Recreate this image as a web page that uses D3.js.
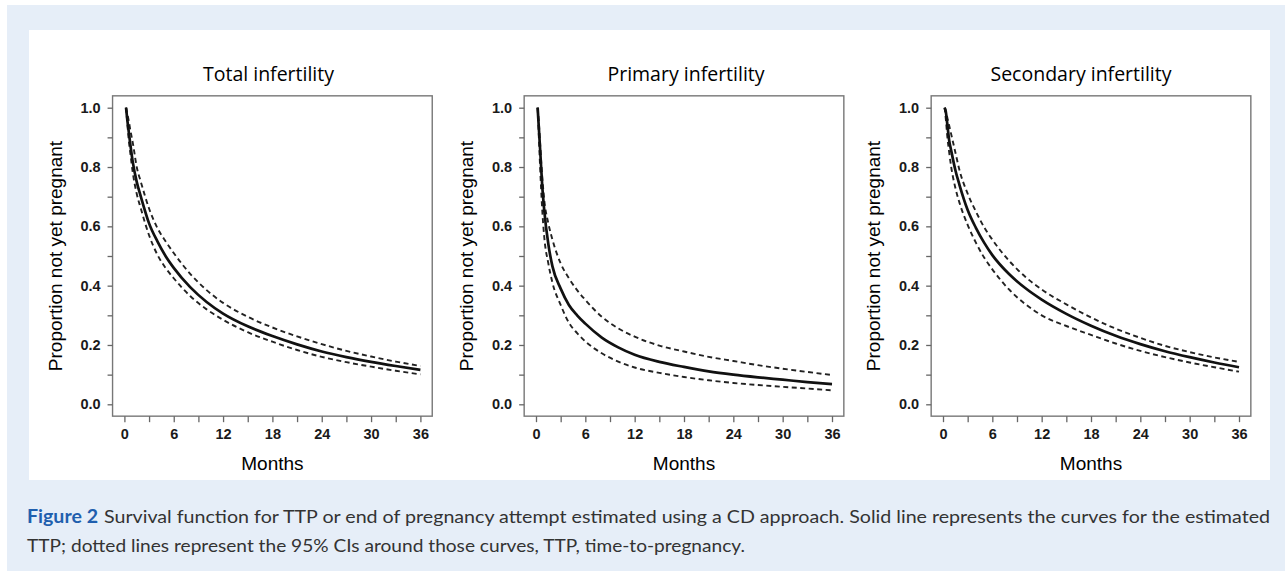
<!DOCTYPE html>
<html><head><meta charset="utf-8">
<script src="https://cdn.jsdelivr.net/npm/d3@7"></script>
<style>
html,body{margin:0;padding:0;background:#fff;}
svg{display:block;}
</style></head>
<body>
<svg id="chart" width="1285" height="571"></svg>
<script>
// ---- data ----
const months = [0.2, 0.35, 0.5, 0.75, 1, 1.5, 2, 3, 4, 5, 6, 8, 10, 12, 15, 18, 21, 24, 27, 30, 33, 36];

const totalEst = [1.0, 0.96, 0.925, 0.87, 0.82, 0.75, 0.70, 0.61, 0.55, 0.50, 0.46, 0.395, 0.345, 0.306, 0.263, 0.23, 0.202, 0.178, 0.159, 0.143, 0.129, 0.116];
const totalHi  = [1.0, 0.98, 0.96, 0.92, 0.885, 0.80, 0.75, 0.66, 0.595, 0.55, 0.51, 0.44, 0.385, 0.342, 0.295, 0.259, 0.229, 0.203, 0.18, 0.161, 0.144, 0.129];
const totalLo  = [1.0, 0.95, 0.90, 0.84, 0.785, 0.71, 0.66, 0.57, 0.505, 0.46, 0.425, 0.365, 0.32, 0.285, 0.243, 0.211, 0.183, 0.16, 0.142, 0.127, 0.113, 0.101];

const primaryEst = [1.0, 0.93, 0.86, 0.74, 0.655, 0.54, 0.465, 0.39, 0.335, 0.30, 0.272, 0.225, 0.192, 0.167, 0.143, 0.126, 0.111, 0.10, 0.091, 0.083, 0.075, 0.068];
const primaryHi  = [1.0, 0.95, 0.88, 0.77, 0.69, 0.61, 0.555, 0.475, 0.425, 0.385, 0.352, 0.295, 0.256, 0.228, 0.198, 0.178, 0.16, 0.146, 0.132, 0.12, 0.109, 0.099];
const primaryLo  = [1.0, 0.90, 0.80, 0.66, 0.565, 0.475, 0.41, 0.335, 0.275, 0.24, 0.212, 0.172, 0.144, 0.124, 0.106, 0.092, 0.081, 0.072, 0.065, 0.059, 0.053, 0.047];

const secondaryEst = [1.0, 0.985, 0.95, 0.89, 0.855, 0.79, 0.74, 0.655, 0.595, 0.545, 0.503, 0.44, 0.392, 0.353, 0.305, 0.265, 0.231, 0.203, 0.179, 0.159, 0.141, 0.125];
const secondaryHi  = [1.0, 0.99, 0.97, 0.94, 0.91, 0.85, 0.79, 0.71, 0.65, 0.597, 0.555, 0.485, 0.43, 0.387, 0.337, 0.293, 0.255, 0.224, 0.197, 0.176, 0.158, 0.143];
const secondaryLo  = [1.0, 0.96, 0.91, 0.85, 0.80, 0.73, 0.68, 0.605, 0.545, 0.495, 0.455, 0.388, 0.338, 0.30, 0.264, 0.234, 0.205, 0.18, 0.159, 0.141, 0.125, 0.11];

const panelTitles = ["Total infertility", "Primary infertility", "Secondary infertility"];
const xTickValues = [0, 3, 6, 9, 12, 15, 18, 21, 24, 27, 30, 33, 36];
const xTickLabels = ["0", "", "6", "", "12", "", "18", "", "24", "", "30", "", "36"];
const yTickValues = [0, 0.1, 0.2, 0.3, 0.4, 0.5, 0.6, 0.7, 0.8, 0.9, 1.0];
const yTickLabels = ["0.0", "", "0.2", "", "0.4", "", "0.6", "", "0.8", "", "1.0"];
const xLabel = "Months";
const yLabel = "Proportion not yet pregnant";
const captionBold = "Figure 2";
const captionLine1 = "Survival function for TTP or end of pregnancy attempt estimated using a CD approach. Solid line represents the curves for the estimated";
const captionLine2 = "TTP; dotted lines represent the 95% CIs around those curves, TTP, time-to-pregnancy.";

const panels = [
  {title: panelTitles[0], est: totalEst, lo: totalLo, hi: totalHi},
  {title: panelTitles[1], est: primaryEst, lo: primaryLo, hi: primaryHi},
  {title: panelTitles[2], est: secondaryEst, lo: secondaryLo, hi: secondaryHi}
];

// ---- layout ----
const svg = d3.select("#chart");
svg.append("rect").attr("x", 7).attr("y", 5).attr("width", 1278).attr("height", 566).attr("fill", "#e6eef8");
svg.append("rect").attr("x", 29).attr("y", 30).attr("width", 1241).attr("height", 450).attr("fill", "#ffffff");

const panelX0 = [124.4, 536, 943];     // pixel of month 0
const panelTitleX = [268.5, 686, 1081];
const plotW = 296, yTop = 107.7, yBot = 404.3;
const tickFont = "Liberation Sans, Arial, Helvetica, sans-serif";

panels.forEach((p, i) => {
  const x = d3.scaleLinear().domain([0, 36]).range([panelX0[i], panelX0[i] + plotW]);
  const y = d3.scaleLinear().domain([0, 1]).range([yBot, yTop]);
  const g = svg.append("g");
  const bx0 = x(-1.44), bx1 = x(37.44), by0 = y(1.04), by1 = y(-0.04);

  // box
  g.append("rect").attr("x", bx0).attr("y", by0).attr("width", bx1 - bx0).attr("height", by1 - by0)
    .attr("fill", "none").attr("stroke", "#777").attr("stroke-width", 1.4);

  // axes
  const xAxis = d3.axisBottom(x).tickValues(xTickValues).tickSize(6).tickPadding(5)
    .tickFormat((d, k) => xTickLabels[k]);
  const ga = g.append("g").attr("transform", `translate(0,${by1})`).call(xAxis)
    .attr("font-size", null).attr("font-family", null);
  ga.select(".domain").remove();
  ga.selectAll(".tick line").attr("stroke", "#666").attr("stroke-width", 1.3);
  ga.selectAll(".tick text").style("font-family", tickFont)
    .style("font-size", "14.5px").style("font-weight", "bold").attr("fill", "#1a1a1a").attr("dy", "0.8em");

  const yAxis = d3.axisLeft(y).tickValues(yTickValues).tickSize(5).tickPadding(7)
    .tickFormat((d, k) => yTickLabels[k]);
  const gy = g.append("g").attr("transform", `translate(${bx0},0)`).call(yAxis)
    .attr("font-size", null).attr("font-family", null);
  gy.select(".domain").remove();
  gy.selectAll(".tick line").attr("stroke", "#666").attr("stroke-width", 1.3);
  gy.selectAll(".tick text").style("font-family", tickFont)
    .style("font-size", "14.5px").style("font-weight", "bold").attr("fill", "#1a1a1a");

  // labels
  g.append("text").attr("x", (bx0 + bx1) / 2).attr("y", 470).attr("text-anchor", "middle")
    .attr("font-family", tickFont).attr("font-size", 19).attr("fill", "#000")
    .text(xLabel);
  g.append("text").attr("transform", `translate(${bx0 - 51},${(by0 + by1) / 2}) rotate(-90)`)
    .attr("text-anchor", "middle")
    .attr("font-family", tickFont).attr("font-size", 19).attr("fill", "#000")
    .text(yLabel);
  g.append("text").attr("x", panelTitleX[i]).attr("y", 81).attr("text-anchor", "middle")
    .attr("font-family", "Open Sans, Lato, sans-serif").attr("font-size", 19.5).attr("fill", "#000")
    .text(p.title);

  // curves
  const line = d3.line().x((d, k) => x(months[k])).y(d => y(d)).curve(d3.curveMonotoneX);
  [p.hi, p.lo].forEach(s => {
    g.append("path").attr("d", line(s)).attr("fill", "none").attr("stroke", "#222")
      .attr("stroke-width", 1.9).attr("stroke-dasharray", "5,3.5");
  });
  g.append("path").attr("d", line(p.est)).attr("fill", "none").attr("stroke", "#111")
    .attr("stroke-width", 2.7);
});

// caption
const capFont = "Lato, Open Sans, sans-serif";
svg.append("text").attr("x", 27).attr("y", 523)
  .attr("font-family", capFont).attr("font-size", 19.5).attr("font-weight", "bold").attr("fill", "#1f5fae")
  .attr("textLength", 71).attr("lengthAdjust", "spacingAndGlyphs")
  .text(captionBold);
svg.append("text").attr("x", 104).attr("y", 523)
  .attr("font-family", capFont).attr("font-size", 17.5).attr("fill", "#333")
  .attr("textLength", 1166).attr("lengthAdjust", "spacingAndGlyphs")
  .text(captionLine1);
svg.append("text").attr("x", 27).attr("y", 552)
  .attr("font-family", capFont).attr("font-size", 17.5).attr("fill", "#333")
  .attr("textLength", 718).attr("lengthAdjust", "spacingAndGlyphs")
  .text(captionLine2);
</script>
</body></html>
